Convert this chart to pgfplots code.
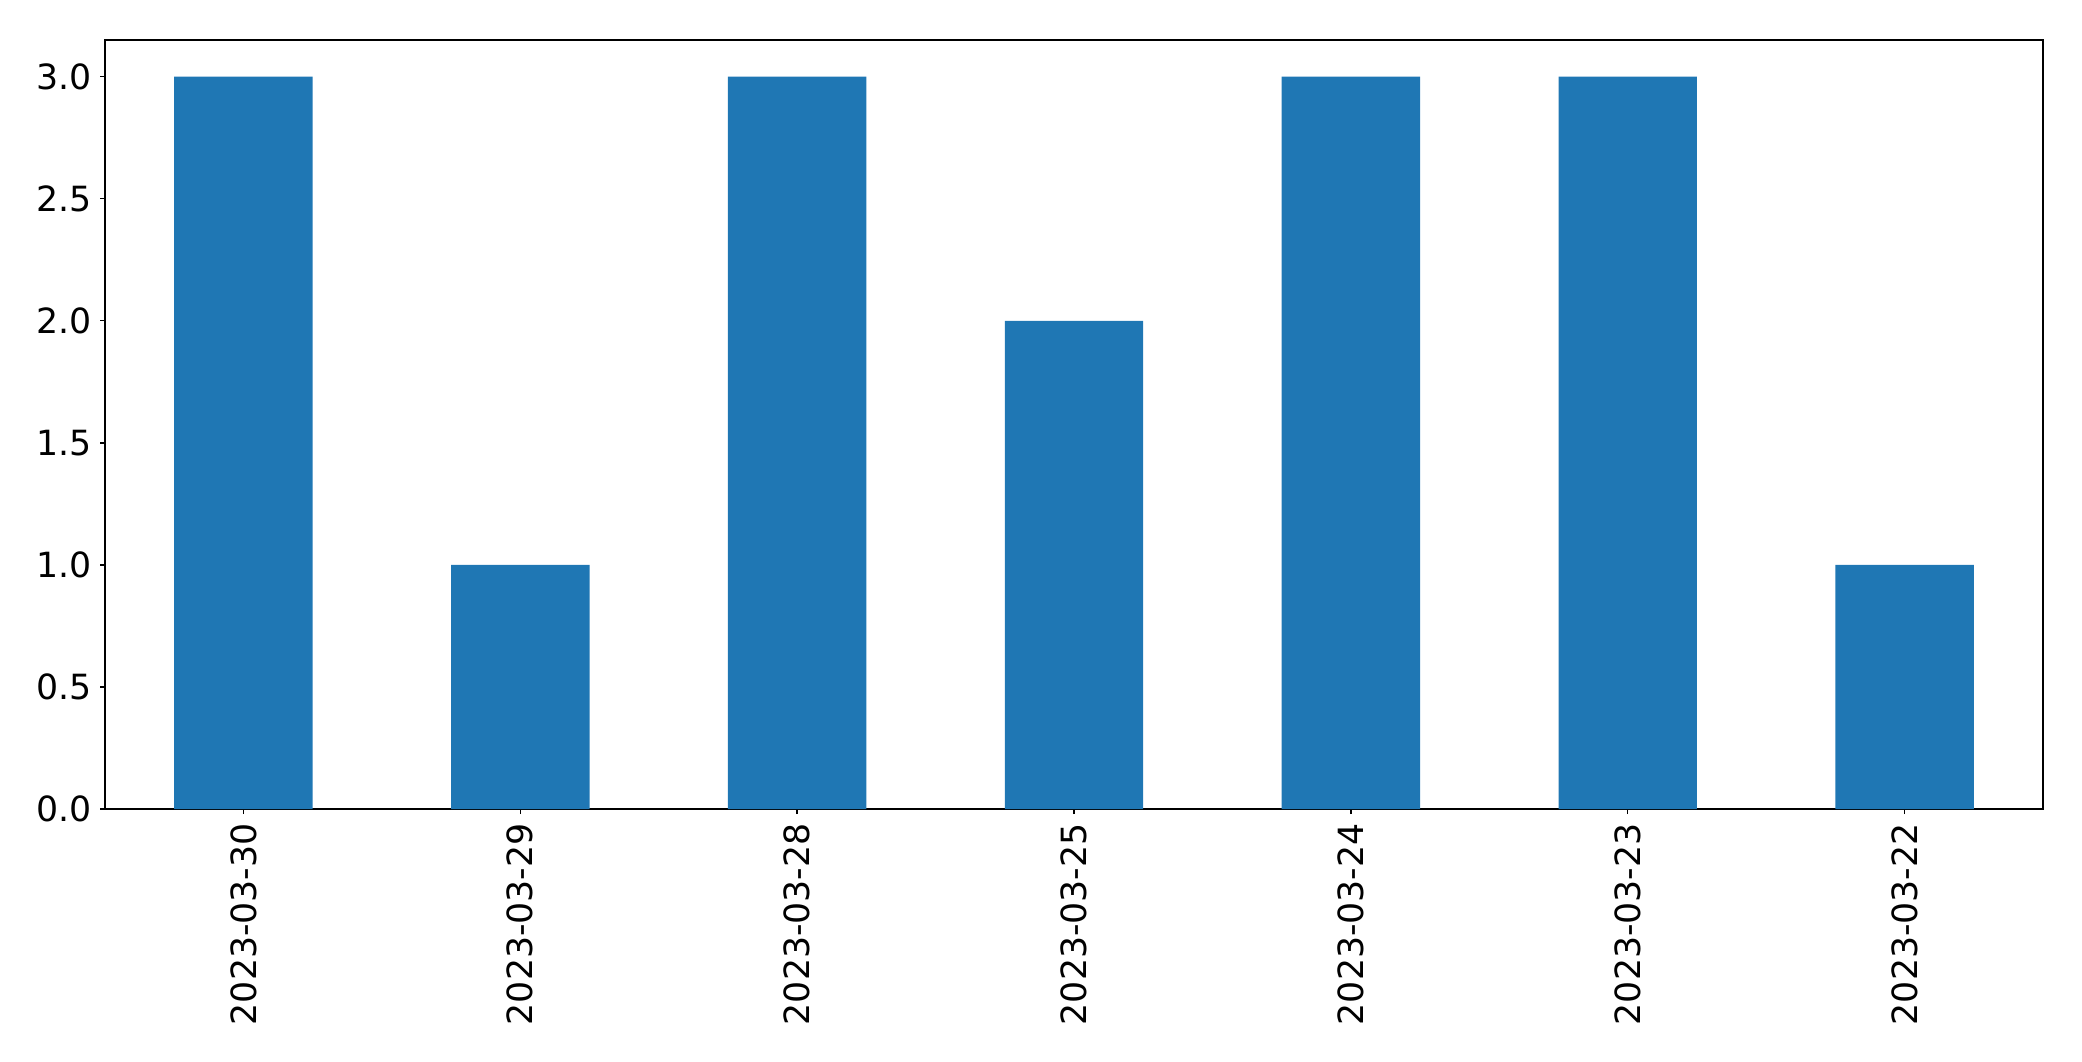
\documentclass[border=0pt]{standalone}
\usepackage{pgfplots}
\pgfplotsset{compat=1.18}
\usepackage{fontspec}
\setmainfont{DejaVu Sans}
\definecolor{mplblue}{HTML}{1F77B4}
\begin{document}
\begin{tikzpicture}
\useasboundingbox (0,0) rectangle (1499.04pt,763.92pt);
\begin{axis}[
  at={(75.6pt,181.4pt)}, anchor=south west,
  scale only axis,
  width=1395.4pt, height=553.7pt,
  xmin=-0.5, xmax=6.5, ymin=0, ymax=3.15,
  xtick=data,
  xticklabels={2023-03-30,2023-03-29,2023-03-28,2023-03-25,2023-03-24,2023-03-23,2023-03-22},
  ytick={0,0.5,1,1.5,2,2.5,3},
  yticklabel style={/pgf/number format/fixed, /pgf/number format/fixed zerofill, /pgf/number format/precision=1, /pgf/number format/assume math mode=true},
  xtick pos=bottom, ytick pos=left,
  tick align=outside, major tick length=3.6pt,
  tick style={black, line width=1pt},
  axis line style={black, line width=1pt},
  ticklabel style={font=\fontsize{25}{30}\selectfont},
  xticklabel style={rotate=90, anchor=east, inner sep=0pt, xshift=-6.5pt},
  yticklabel style={anchor=east, inner sep=0pt, xshift=-5.5pt},
  ybar, bar width=0.5,
]
\addplot[fill=mplblue, draw=none] coordinates {(0,3) (1,1) (2,3) (3,2) (4,3) (5,3) (6,1)};
\end{axis}
\end{tikzpicture}
\end{document}
